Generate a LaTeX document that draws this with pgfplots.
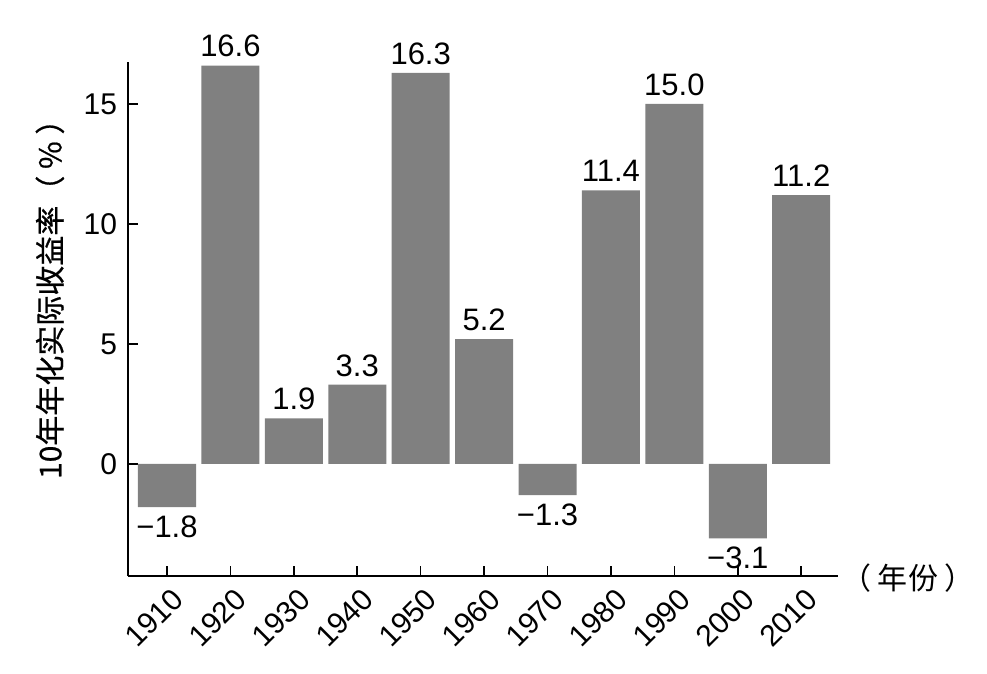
\documentclass[border=0pt]{standalone}
\usepackage{pgfplots}
\pgfplotsset{compat=1.18}
\usepackage{pgfplotstable}
\usepackage{fontspec}
\setmainfont{Liberation Sans}
\newfontfamily\cjk{Noto Sans CJK SC}
\newfontfamily\cjkb[FakeBold=0.6]{Noto Sans CJK SC}
\usetikzlibrary{calc}
\definecolor{bargray}{HTML}{808080}
\pgfplotstableread{
x y lab
1 16.6 16.6
2 1.9 1.9
3 3.3 3.3
4 16.3 16.3
5 5.2 5.2
7 11.4 11.4
8 15.0 15.0
10 11.2 11.2
}\postable
\pgfplotstableread{
x y lab
0 -1.8 −1.8
6 -1.3 −1.3
9 -3.1 −3.1
}\negtable
\begin{document}
\begin{tikzpicture}
\begin{axis}[
  scale only axis, width=355bp, height=257bp,
  xmin=-0.615, xmax=10.58, ymin=-4.67, ymax=16.75,
  axis lines*=left,
  axis line style={line width=0.8bp, black},
  tick align=inside,
  major tick length=5bp,
  tick style={line width=0.8bp, black},
  xtick={0,1,2,3,4,5,6,7,8,9,10},
  xticklabels={1910,1920,1930,1940,1950,1960,1970,1980,1990,2000,2010},
  ytick={0,5,10,15},
  /pgf/number format/assume math mode=true,
  ticklabel style={font=\fontsize{15bp}{17bp}\selectfont, text=black},
  xticklabel style={xshift=5.5bp, yshift=-9bp, rotate=45, anchor=east, inner sep=0pt},
  yticklabel style={xshift=-2bp},
  ylabel={\cjkb 10年年化实际收益率（ \% ）},
  ylabel style={at={(axis description cs:-0.11,0.553)}, anchor=center, font=\fontsize{15bp}{18bp}\selectfont},
  point meta=explicit symbolic,
  clip=false,
]
\addplot[ybar, bar width=0.915, bar shift=0pt, fill=bargray, draw=none,
  nodes near coords, nodes near coords style={anchor=south, font=\fontsize{15.5bp}{18bp}\selectfont, inner sep=4bp}]
  table[x=x, y=y, meta=lab] {\postable};
\addplot[ybar, bar width=0.915, bar shift=0pt, fill=bargray, draw=none,
  nodes near coords, nodes near coords style={anchor=north, font=\fontsize{15.5bp}{18bp}\selectfont, inner sep=4bp}]
  table[x=x, y=y, meta=lab] {\negtable};
\coordinate (sw) at (rel axis cs:0,0);
\coordinate (ne) at (rel axis cs:1,1);
\coordinate (se) at (rel axis cs:1,0);
\end{axis}
\node[font=\cjk\fontsize{15bp}{18bp}\selectfont, anchor=center] at ($(se)+(35bp,-1bp)$) {（ 年份 ）};
\pgfresetboundingbox
\path ($(sw)+(-64bp,-49bp)$) rectangle ($(ne)+(74.5bp,31bp)$);
\end{tikzpicture}
\end{document}
